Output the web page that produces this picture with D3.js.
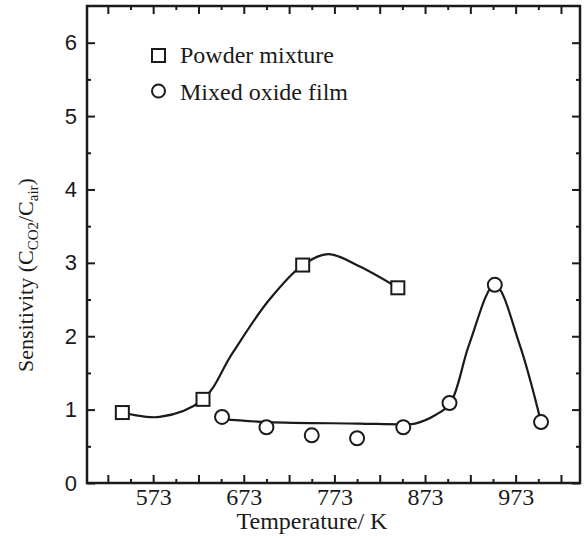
<!DOCTYPE html>
<html>
<head>
<meta charset="utf-8">
<script src="https://cdn.jsdelivr.net/npm/d3@7"></script>
<style>
  body { margin: 0; background: #fff; }
  svg { display: block; }
</style>
</head>
<body>
<div id="chart"></div>
<script>
'use strict';

// values
const powderT = [539, 628, 738, 843];
const powderS = [0.96, 1.14, 2.97, 2.66];
const filmT = [649, 698, 748, 798, 849, 900, 950, 1001];
const filmS = [0.90, 0.76, 0.65, 0.61, 0.76, 1.09, 2.70, 0.83];

// the smooth guide curves drawn in the figure (they don't hit every point)
const powderFitT = [539, 580, 628, 660, 700, 738, 766, 801, 843];
const powderFitS = [0.96, 0.90, 1.14, 1.76, 2.48, 2.97, 3.12, 2.95, 2.66];
const filmFitT = [649, 700, 800, 849, 862, 885, 901, 922, 950, 977, 1001];
const filmFitS = [0.87, 0.83, 0.81, 0.80, 0.81, 0.93, 1.09, 1.90, 2.70, 1.90, 0.83];

// ticks
const xMajor = [523, 573, 623, 673, 723, 773, 823, 873, 923, 973, 1023];
const xMinor = [548, 598, 648, 698, 748, 798, 848, 898, 948, 998];
const xLabels = [573, 673, 773, 873, 973];
const yMajor = [0, 1, 2, 3, 4, 5, 6];
const yMinor = [0.5, 1.5, 2.5, 3.5, 4.5, 5.5];

const legendNames = ['Powder mixture', 'Mixed oxide film'];

const W = 584;
const H = 538;
const m = { left: 87, right: 4, top: 6, bottom: 55 };
const serif = '"Liberation Serif", "Times New Roman", serif';
const sans = '"Liberation Sans", Arial, sans-serif';
const ink = '#1a1a1a';

const svg = d3.select('#chart').append('svg')
  .attr('width', W)
  .attr('height', H);

const x = d3.scaleLinear().domain([500, 1044]).range([m.left, W - m.right]);
const y = d3.scaleLinear().domain([0, 6.5]).range([H - m.bottom, m.top]);

const x0 = x.range()[0], x1 = x.range()[1];
const y0 = y.range()[0], y1 = y.range()[1];

// inward ticks on all four sides
function tickAxis(axisFn, scale, vals, size, fmt) {
  return axisFn(scale).tickValues(vals).tickSizeInner(-size).tickSizeOuter(0)
    .tickPadding(5).tickFormat(fmt || '');
}

const gx = svg.append('g').attr('transform', 'translate(0,' + y0 + ')');
gx.call(tickAxis(d3.axisBottom, x, xMajor, 8, d => (xLabels.includes(d) ? d : '')));
gx.append('g').call(tickAxis(d3.axisBottom, x, xMinor, 4));

svg.append('g').attr('transform', 'translate(0,' + y1 + ')')
  .call(tickAxis(d3.axisTop, x, xMajor, 8))
  .append('g').call(tickAxis(d3.axisTop, x, xMinor, 4));

const gy = svg.append('g').attr('transform', 'translate(' + x0 + ',0)');
gy.call(tickAxis(d3.axisLeft, y, yMajor, 8, d => d));
gy.append('g').call(tickAxis(d3.axisLeft, y, yMinor, 4));

svg.append('g').attr('transform', 'translate(' + x1 + ',0)')
  .call(tickAxis(d3.axisRight, y, yMajor, 8))
  .append('g').call(tickAxis(d3.axisRight, y, yMinor, 4));

svg.selectAll('.domain').remove();
svg.selectAll('.tick line').attr('stroke', ink).attr('stroke-width', 2);

gx.selectAll('.tick text')
  .attr('font-family', serif)
  .attr('font-size', 24)
  .attr('fill', ink)
  .attr('dy', '0.7em');

gy.selectAll('.tick text')
  .attr('font-family', sans)
  .attr('font-size', 22)
  .attr('fill', ink)
  .attr('x', -10);

// frame
svg.append('rect')
  .attr('x', x0)
  .attr('y', y1)
  .attr('width', x1 - x0)
  .attr('height', y0 - y1)
  .attr('fill', 'none')
  .attr('stroke', ink)
  .attr('stroke-width', 2.5);

// guide curves
const line = d3.line()
  .x(d => x(d[0]))
  .y(d => y(d[1]))
  .curve(d3.curveCatmullRom.alpha(0.5));

svg.append('path')
  .datum(d3.zip(powderFitT, powderFitS))
  .attr('d', line)
  .attr('fill', 'none')
  .attr('stroke', ink)
  .attr('stroke-width', 2.2);

svg.append('path')
  .datum(d3.zip(filmFitT, filmFitS))
  .attr('d', line)
  .attr('fill', 'none')
  .attr('stroke', ink)
  .attr('stroke-width', 2.2);

// markers
const sq = 13;
svg.selectAll('.sq')
  .data(d3.zip(powderT, powderS))
  .enter().append('rect')
  .attr('class', 'sq')
  .attr('x', d => x(d[0]) - sq / 2)
  .attr('y', d => y(d[1]) - sq / 2)
  .attr('width', sq)
  .attr('height', sq)
  .attr('fill', '#fff')
  .attr('stroke', ink)
  .attr('stroke-width', 2);

svg.selectAll('.ci')
  .data(d3.zip(filmT, filmS))
  .enter().append('circle')
  .attr('class', 'ci')
  .attr('cx', d => x(d[0]))
  .attr('cy', d => y(d[1]))
  .attr('r', 7)
  .attr('fill', '#fff')
  .attr('stroke', ink)
  .attr('stroke-width', 2);

// legend
const lg = svg.append('g');
lg.append('rect')
  .attr('x', 152)
  .attr('y', 49)
  .attr('width', sq)
  .attr('height', sq)
  .attr('fill', '#fff')
  .attr('stroke', ink)
  .attr('stroke-width', 2);
lg.append('circle')
  .attr('cx', 158.5)
  .attr('cy', 91)
  .attr('r', 6.5)
  .attr('fill', '#fff')
  .attr('stroke', ink)
  .attr('stroke-width', 2);
lg.selectAll('text')
  .data(legendNames)
  .enter().append('text')
  .attr('x', 180)
  .attr('y', (d, i) => 63 + i * 37)
  .attr('font-family', serif)
  .attr('font-size', 24)
  .attr('fill', ink)
  .text(d => d);

// axis titles
svg.append('text')
  .attr('x', 312)
  .attr('y', 529)
  .attr('text-anchor', 'middle')
  .attr('font-family', serif)
  .attr('font-size', 24)
  .attr('fill', ink)
  .text('Temperature/ K');

const yt = svg.append('text')
  .attr('transform', 'translate(33,275) rotate(-90)')
  .attr('text-anchor', 'middle')
  .attr('font-family', serif)
  .attr('font-size', 22)
  .attr('fill', ink);
yt.append('tspan').text('Sensitivity (C');
yt.append('tspan').attr('font-size', 15).attr('dy', 5).text('CO2');
yt.append('tspan').attr('dy', -5).text('/C');
yt.append('tspan').attr('font-size', 15).attr('dy', 5).text('air');
yt.append('tspan').attr('dy', -5).text(')');
</script>
</body>
</html>
